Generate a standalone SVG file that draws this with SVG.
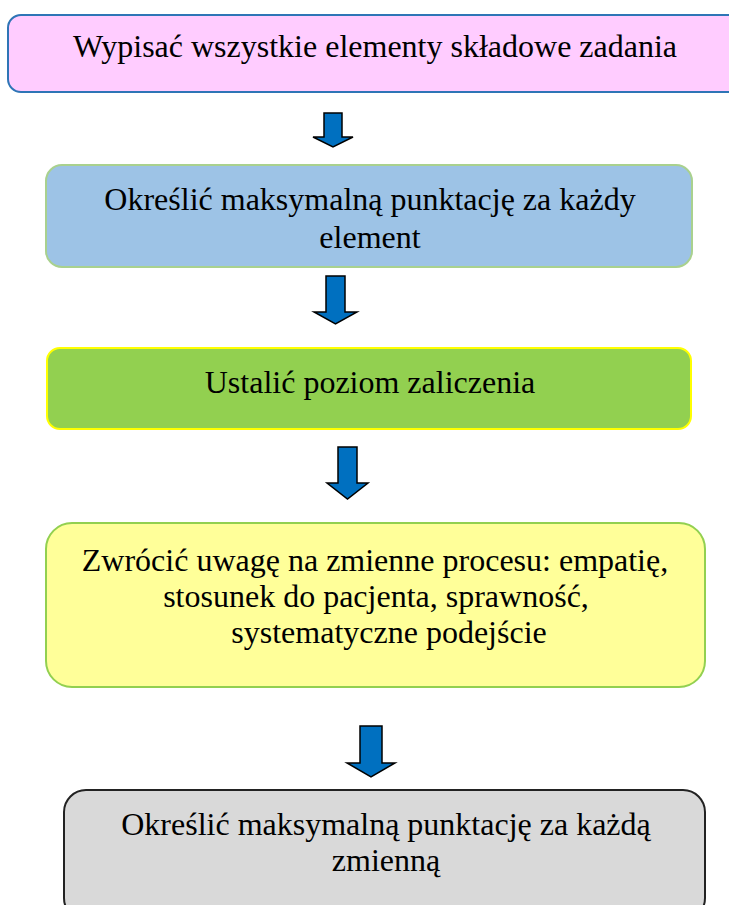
<svg xmlns="http://www.w3.org/2000/svg" width="729" height="905" viewBox="0 0 729 905">
<defs>
<style>
text{font-family:'Liberation Serif','Times New Roman',Times,serif;font-size:32px;fill:#000;text-anchor:middle}
.arrow{fill:#0070c0;stroke:#000;stroke-width:1.5;stroke-linejoin:miter}
</style>
</defs>
<rect width="729" height="905" fill="#fff"/>
<g id="node1">
<rect x="8" y="15" width="735" height="77" rx="13" fill="#ffccff" stroke="#2e75b6" stroke-width="2"/>
<text x="375" y="57" font-family="Liberation Serif">Wypisać wszystkie elementy składowe zadania</text>
</g>
<g id="node2">
<rect x="46" y="165" width="646" height="102" rx="16" fill="#9dc3e6" stroke="#a9d18e" stroke-width="2"/>
<text x="370" y="210" font-family="Liberation Serif">Określić maksymalną punktację za każdy</text>
<text x="370" y="248" font-family="Liberation Serif">element</text>
</g>
<g id="node3">
<rect x="47" y="348" width="644" height="81" rx="13" fill="#92d050" stroke="#ffff00" stroke-width="2"/>
<text x="370" y="393" font-family="Liberation Serif">Ustalić poziom zaliczenia</text>
</g>
<g id="node4">
<rect x="46" y="523" width="659" height="164" rx="26" fill="#ffff99" stroke="#92d050" stroke-width="2"/>
<text x="375" y="571" font-family="Liberation Serif">Zwrócić uwagę na zmienne procesu: empatię,</text>
<text x="376" y="607" font-family="Liberation Serif">stosunek do pacjenta, sprawność,</text>
<text x="389" y="643" font-family="Liberation Serif">systematyczne podejście</text>
</g>
<g id="node5">
<rect x="64" y="790" width="641" height="130" rx="22" fill="#d9d9d9" stroke="#222" stroke-width="2"/>
<text x="386" y="835" font-family="Liberation Serif">Określić maksymalną punktację za każdą</text>
<text x="386" y="871" font-family="Liberation Serif">zmienną</text>
</g>
<g id="connectors">
<polygon class="arrow" points="324,113 342,113 342,137 353,137 333,147 313,137 324,137"/>
<polygon class="arrow" points="326,276 345,276 345,312 357,312 335.5,324 314,312 326,312"/>
<polygon class="arrow" points="338,447 357,447 357,483 368,483 347.5,499 327,483 338,483"/>
<polygon class="arrow" points="360,726 382,726 382,763 395,763 371,777 347,763 360,763"/>
</g>
</svg>
